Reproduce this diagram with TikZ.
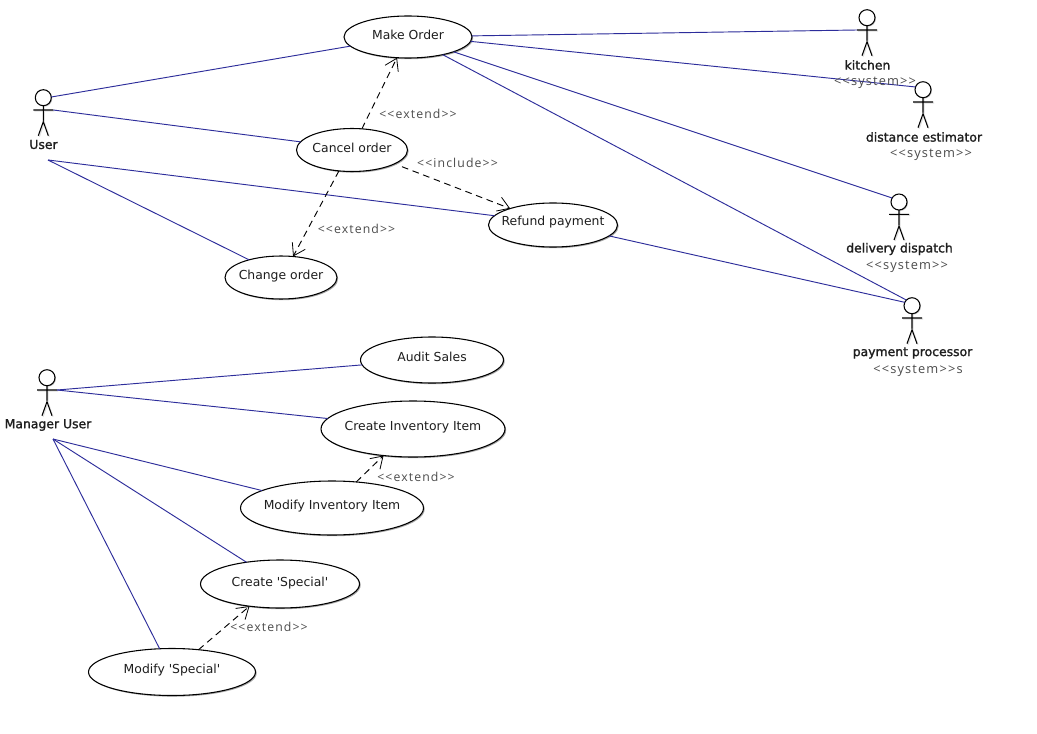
\documentclass[tikz,border=0pt]{standalone}
\usepackage{fontspec}
\setmainfont{DejaVu Sans}
\newfontfamily\ucfont{DejaVu Sans}
\newfontfamily\stfont[LetterSpace=9]{Open Sans}
\newfontfamily\actfont[FakeBold=1.5]{DejaVu Sans}
\usetikzlibrary{shapes.geometric,arrows.meta,shadows}
\definecolor{assoc}{RGB}{45,45,155}
\definecolor{txt}{RGB}{30,30,30}
\tikzset{
  usecase/.style={ellipse,draw=black,line width=0.8pt,fill=white,inner sep=0pt,outer sep=0pt,
    text=txt,font=\ucfont\fontsize{9.3}{11}\selectfont,
    drop shadow={shadow xshift=0.9pt,shadow yshift=-0.9pt,opacity=0.35,fill=black}},
  assocline/.style={draw=assoc,line width=0.7pt},
  dep/.style={draw=black,line width=0.7pt,dash pattern=on 5pt off 3.5pt,
    -{Straight Barb[length=8.5pt,width=11pt,line width=0.6pt]}},
  stereo/.style={inner sep=0pt,text=black!70,font=\stfont\fontsize{9.2}{11}\selectfont},
  stereosys/.style={inner sep=0pt,text=black!70,font=\stfont\fontsize{9.6}{11}\selectfont},
  actorname/.style={inner sep=0pt,text=txt,font=\actfont\fontsize{9.3}{11}\selectfont},
  limb/.style={draw=black,line width=0.8pt},
  limbshadow/.style={draw=black!12,line width=0.9pt},
  headnode/.style={circle,draw=black,line width=0.8pt,fill=white,inner sep=0pt,outer sep=0pt,minimum size=12pt,
    drop shadow={shadow xshift=0.7pt,shadow yshift=-0.7pt,opacity=0.25,fill=black}}
}
% optional argument: how far the text baseline is raised above the ellipse's centre
\newcommand\ucase[7][-1.75pt]{\node[usecase,minimum width=#5*1.5pt,minimum height=#6*1.5pt] (#2) at (#3,#4) {\makebox[0pt]{\raisebox{#1}[0pt][0pt]{#7}}};}
\newcommand\actor[3]{%
  \begin{scope}[shift={(#2,#3)}]
    \draw[limbshadow] (1,9) -- (1,24) (-9,13.3) -- (11,13.3) (-4,39) -- (1,25) -- (6,39);
    \draw[limb] (0,8) -- (0,23) (-10,12.3) -- (10,12.3) (-5,38) -- (0,24) -- (5,38);
    \node[headnode] (#1) at (0,0) {};
    \coordinate (#1-l) at (-10,12.3);
    \coordinate (#1-r) at (10,12.3);
  \end{scope}}
\begin{document}
\begin{tikzpicture}[x=0.75pt,y=-0.75pt]
\useasboundingbox (0,0) rectangle (1037,734);
\fill[white] (0,0) rectangle (1037,734);
% use cases
\ucase{mo}{408}{37}{64}{21}{Make Order}
\ucase{co}{352}{150}{55.5}{21.5}{Cancel order}
\ucase{ch}{281}{277.5}{56}{21.5}{Change order}
\ucase[-0.5pt]{rp}{553}{225}{64.5}{22}{Refund payment}
\ucase[-1pt]{as}{432}{360}{71.5}{23}{Audit Sales}
\ucase[-1pt]{ci}{413}{429}{92}{28}{Create Inventory Item}
\ucase[-1pt]{mi}{332}{508}{91.5}{27}{Modify Inventory Item}
\ucase{cs}{280}{584}{79.5}{24}{Create 'Special'}
\ucase[-1pt]{ms}{172}{672}{83.5}{23.5}{Modify 'Special'}
% actors
\actor{user}{43.3}{97.7}
\actor{kit}{867}{17.7}
\actor{dist}{923}{89.7}
\actor{del}{899}{202}
\actor{pay}{912}{305.7}
\actor{mgr}{47}{377.7}
\coordinate (user-c) at (48,160);
\coordinate (mgr-c) at (53,439);
% associations
\draw[assocline] (user.5) -- (mo.189);
\draw[assocline] (user-r) -- (co.171.4);
\draw[assocline] (user-c) -- (rp.171.9);
\draw[assocline] (user-c) -- (ch.151.4);
\draw[assocline] (mo.1) -- (kit-l);
\draw[assocline] (mo.-4.5) -- (dist.160);
\draw[assocline] (mo.-18.4) -- (del.150);
\draw[assocline] (mo.-27.9) -- (pay.135);
\draw[assocline] (rp.-11.9) -- (pay.155);
\draw[assocline] (mgr-r) -- (as.184.8);
\draw[assocline] (mgr-r) -- (ci.173.5);
\draw[assocline] (mgr-c) -- (mi.166);
\draw[assocline] (mgr-c) -- (cs.147.8);
\draw[assocline] (mgr-c) -- (ms.118.4);
% dependencies
\draw[dep] (co.65.6) -- (mo.242.4);
\draw[dep,shorten <=6pt] (co.-18.8) -- (rp.159);
\draw[dep] (co.238.2) -- (ch.60.8);
\draw[dep] (mi.47) -- (ci.222);
\draw[dep] (ms.40) -- (cs.216.3);
% actor labels
\node[actorname] (l1) at (43.5,144.5) {User};
\node[actorname] (l2) at (867.5,65) {kitchen};
\node[actorname] (l3) at (924,137) {distance estimator};
\node[actorname] (l4) at (899.5,249) {delivery dispatch};
\node[actorname] (l5) at (912.5,353) {payment processor};
\node[actorname] (l6) at (48,425) {Manager User};
% stereotypes
\node[stereo] (s1) at (418,114) {<<extend>>};
\node[stereo] (s2) at (457.5,163) {<<include>>};
\node[stereo] (s3) at (356.5,229) {<<extend>>};
\node[stereo] (s4) at (416,477) {<<extend>>};
\node[stereo] (s5) at (269,627) {<<extend>>};
\node[stereosys] (s6) at (875,82.5) {<<system>>};
\node[stereosys] (s7) at (931,154.5) {<<system>>};
\node[stereosys] (s8) at (907,266.5) {<<system>>};
\node[stereosys] (s9) at (918,370.5) {<<system>>s};
\end{tikzpicture}
\end{document}
